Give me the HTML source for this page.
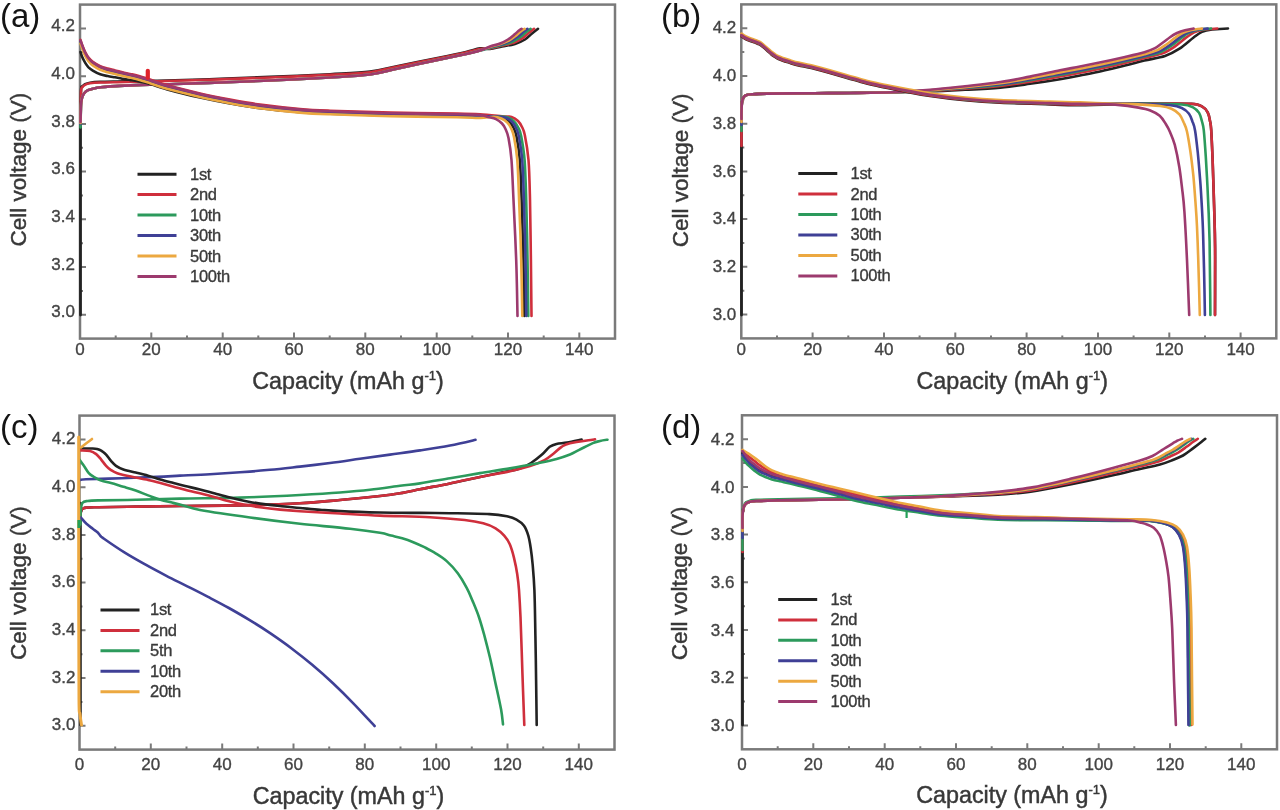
<!DOCTYPE html>
<html><head><meta charset="utf-8"><title>Charge-discharge curves</title>
<style>
html,body{margin:0;padding:0;background:#fff;}
body{width:1280px;height:810px;overflow:hidden;}
svg{display:block;font-family:"Liberation Sans",sans-serif;filter:blur(0.7px);}
.tl{font-size:17px;fill:#444;stroke:#444;stroke-width:0.35px;}
.al{font-size:23.3px;fill:#383838;stroke:#383838;stroke-width:0.45px;}
.yl{font-size:22.5px;fill:#383838;stroke:#383838;stroke-width:0.45px;}
.sup{font-size:13px;}
.pl{font-size:33px;fill:#141414;}
.lg{font-size:16.5px;fill:#3a3a3a;stroke:#3a3a3a;stroke-width:0.35px;letter-spacing:-0.3px;}
</style></head><body>
<svg width="1280" height="810" viewBox="0 0 1280 810">
<rect width="1280" height="810" fill="#fff"/>

<path d="M115.7,338.6V335.6 M151.3,338.6V332.6 M187.0,338.6V335.6 M222.7,338.6V332.6 M258.3,338.6V335.6 M294.0,338.6V332.6 M329.7,338.6V335.6 M365.3,338.6V332.6 M401.0,338.6V335.6 M436.7,338.6V332.6 M472.3,338.6V335.6 M508.0,338.6V332.6 M543.7,338.6V335.6 M579.3,338.6V332.6 M80.0,314.7H86.0 M80.0,290.9H83.0 M80.0,267.0H86.0 M80.0,243.2H83.0 M80.0,219.3H86.0 M80.0,195.5H83.0 M80.0,171.6H86.0 M80.0,147.7H83.0 M80.0,123.9H86.0 M80.0,100.0H83.0 M80.0,76.2H86.0 M80.0,52.3H83.0 M80.0,28.5H86.0" stroke="#7a7a7a" stroke-width="2" fill="none"/>
<rect x="80.0" y="4.6" width="535" height="334" fill="none" stroke="#7a7a7a" stroke-width="2.5"/>
<text x="75.0" y="31.1" class="tl" text-anchor="end">4.2</text>
<text x="75.0" y="78.8" class="tl" text-anchor="end">4.0</text>
<text x="75.0" y="126.5" class="tl" text-anchor="end">3.8</text>
<text x="75.0" y="174.2" class="tl" text-anchor="end">3.6</text>
<text x="75.0" y="221.9" class="tl" text-anchor="end">3.4</text>
<text x="75.0" y="269.6" class="tl" text-anchor="end">3.2</text>
<text x="75.0" y="317.3" class="tl" text-anchor="end">3.0</text>
<text x="80.0" y="355.1" class="tl" text-anchor="middle">0</text>
<text x="151.3" y="355.1" class="tl" text-anchor="middle">20</text>
<text x="222.7" y="355.1" class="tl" text-anchor="middle">40</text>
<text x="294.0" y="355.1" class="tl" text-anchor="middle">60</text>
<text x="365.3" y="355.1" class="tl" text-anchor="middle">80</text>
<text x="436.7" y="355.1" class="tl" text-anchor="middle">100</text>
<text x="508.0" y="355.1" class="tl" text-anchor="middle">120</text>
<text x="579.3" y="355.1" class="tl" text-anchor="middle">140</text>
<text x="348.0" y="389.1" class="al" text-anchor="middle">Capacity (mAh g<tspan class="sup" dy="-9">-1</tspan><tspan dy="9">)</tspan></text>
<text class="yl" text-anchor="middle" transform="translate(26.0,169.6) rotate(-90)">Cell voltage (V)</text>
<text x="0.0" y="27.0" class="pl">(a)</text>
<path d="M777.0,338.4V335.4 M812.6,338.4V332.4 M848.3,338.4V335.4 M884.0,338.4V332.4 M919.6,338.4V335.4 M955.3,338.4V332.4 M991.0,338.4V335.4 M1026.6,338.4V332.4 M1062.3,338.4V335.4 M1098.0,338.4V332.4 M1133.6,338.4V335.4 M1169.3,338.4V332.4 M1205.0,338.4V335.4 M1240.6,338.4V332.4 M741.3,314.5H747.3 M741.3,290.7H744.3 M741.3,266.8H747.3 M741.3,243.0H744.3 M741.3,219.1H747.3 M741.3,195.3H744.3 M741.3,171.4H747.3 M741.3,147.5H744.3 M741.3,123.7H747.3 M741.3,99.8H744.3 M741.3,76.0H747.3 M741.3,52.1H744.3 M741.3,28.3H747.3" stroke="#7a7a7a" stroke-width="2" fill="none"/>
<rect x="741.3" y="4.4" width="535" height="334" fill="none" stroke="#7a7a7a" stroke-width="2.5"/>
<text x="736.3" y="33.4" class="tl" text-anchor="end">4.2</text>
<text x="736.3" y="81.1" class="tl" text-anchor="end">4.0</text>
<text x="736.3" y="128.8" class="tl" text-anchor="end">3.8</text>
<text x="736.3" y="176.5" class="tl" text-anchor="end">3.6</text>
<text x="736.3" y="224.2" class="tl" text-anchor="end">3.4</text>
<text x="736.3" y="271.9" class="tl" text-anchor="end">3.2</text>
<text x="736.3" y="319.6" class="tl" text-anchor="end">3.0</text>
<text x="741.3" y="354.9" class="tl" text-anchor="middle">0</text>
<text x="812.6" y="354.9" class="tl" text-anchor="middle">20</text>
<text x="884.0" y="354.9" class="tl" text-anchor="middle">40</text>
<text x="955.3" y="354.9" class="tl" text-anchor="middle">60</text>
<text x="1026.6" y="354.9" class="tl" text-anchor="middle">80</text>
<text x="1098.0" y="354.9" class="tl" text-anchor="middle">100</text>
<text x="1169.3" y="354.9" class="tl" text-anchor="middle">120</text>
<text x="1240.6" y="354.9" class="tl" text-anchor="middle">140</text>
<text x="1012.3" y="388.9" class="al" text-anchor="middle">Capacity (mAh g<tspan class="sup" dy="-9">-1</tspan><tspan dy="9">)</tspan></text>
<text class="yl" text-anchor="middle" transform="translate(688.3,170.4) rotate(-90)">Cell voltage (V)</text>
<text x="661.0" y="27.0" class="pl">(b)</text>
<path d="M115.2,749.6V746.6 M150.8,749.6V743.6 M186.5,749.6V746.6 M222.2,749.6V743.6 M257.8,749.6V746.6 M293.5,749.6V743.6 M329.2,749.6V746.6 M364.8,749.6V743.6 M400.5,749.6V746.6 M436.2,749.6V743.6 M471.8,749.6V746.6 M507.5,749.6V743.6 M543.2,749.6V746.6 M578.8,749.6V743.6 M79.5,725.7H85.5 M79.5,701.9H82.5 M79.5,678.0H85.5 M79.5,654.2H82.5 M79.5,630.3H85.5 M79.5,606.5H82.5 M79.5,582.6H85.5 M79.5,558.7H82.5 M79.5,534.9H85.5 M79.5,511.0H82.5 M79.5,487.2H85.5 M79.5,463.3H82.5 M79.5,439.5H85.5" stroke="#7a7a7a" stroke-width="2" fill="none"/>
<rect x="79.5" y="415.6" width="535" height="334" fill="none" stroke="#7a7a7a" stroke-width="2.5"/>
<text x="75.5" y="444.1" class="tl" text-anchor="end">4.2</text>
<text x="75.5" y="491.8" class="tl" text-anchor="end">4.0</text>
<text x="75.5" y="539.5" class="tl" text-anchor="end">3.8</text>
<text x="75.5" y="587.2" class="tl" text-anchor="end">3.6</text>
<text x="75.5" y="634.9" class="tl" text-anchor="end">3.4</text>
<text x="75.5" y="682.6" class="tl" text-anchor="end">3.2</text>
<text x="75.5" y="730.3" class="tl" text-anchor="end">3.0</text>
<text x="79.5" y="769.6" class="tl" text-anchor="middle">0</text>
<text x="150.8" y="769.6" class="tl" text-anchor="middle">20</text>
<text x="222.2" y="769.6" class="tl" text-anchor="middle">40</text>
<text x="293.5" y="769.6" class="tl" text-anchor="middle">60</text>
<text x="364.8" y="769.6" class="tl" text-anchor="middle">80</text>
<text x="436.2" y="769.6" class="tl" text-anchor="middle">100</text>
<text x="507.5" y="769.6" class="tl" text-anchor="middle">120</text>
<text x="578.8" y="769.6" class="tl" text-anchor="middle">140</text>
<text x="348.5" y="803.6" class="al" text-anchor="middle">Capacity (mAh g<tspan class="sup" dy="-9">-1</tspan><tspan dy="9">)</tspan></text>
<text class="yl" text-anchor="middle" transform="translate(25.5,583.1) rotate(-90)">Cell voltage (V)</text>
<text x="0.0" y="438.0" class="pl">(c)</text>
<path d="M777.7,749.3V746.3 M813.3,749.3V743.3 M849.0,749.3V746.3 M884.7,749.3V743.3 M920.3,749.3V746.3 M956.0,749.3V743.3 M991.7,749.3V746.3 M1027.3,749.3V743.3 M1063.0,749.3V746.3 M1098.7,749.3V743.3 M1134.3,749.3V746.3 M1170.0,749.3V743.3 M1205.7,749.3V746.3 M1241.3,749.3V743.3 M742.0,725.4H748.0 M742.0,701.6H745.0 M742.0,677.7H748.0 M742.0,653.9H745.0 M742.0,630.0H748.0 M742.0,606.2H745.0 M742.0,582.3H748.0 M742.0,558.4H745.0 M742.0,534.6H748.0 M742.0,510.7H745.0 M742.0,486.9H748.0 M742.0,463.0H745.0 M742.0,439.2H748.0" stroke="#7a7a7a" stroke-width="2" fill="none"/>
<rect x="742.0" y="415.3" width="535" height="334" fill="none" stroke="#7a7a7a" stroke-width="2.5"/>
<text x="734.5" y="444.8" class="tl" text-anchor="end">4.2</text>
<text x="734.5" y="492.5" class="tl" text-anchor="end">4.0</text>
<text x="734.5" y="540.2" class="tl" text-anchor="end">3.8</text>
<text x="734.5" y="587.9" class="tl" text-anchor="end">3.6</text>
<text x="734.5" y="635.6" class="tl" text-anchor="end">3.4</text>
<text x="734.5" y="683.3" class="tl" text-anchor="end">3.2</text>
<text x="734.5" y="731.0" class="tl" text-anchor="end">3.0</text>
<text x="742.0" y="769.8" class="tl" text-anchor="middle">0</text>
<text x="813.3" y="769.8" class="tl" text-anchor="middle">20</text>
<text x="884.7" y="769.8" class="tl" text-anchor="middle">40</text>
<text x="956.0" y="769.8" class="tl" text-anchor="middle">60</text>
<text x="1027.3" y="769.8" class="tl" text-anchor="middle">80</text>
<text x="1098.7" y="769.8" class="tl" text-anchor="middle">100</text>
<text x="1170.0" y="769.8" class="tl" text-anchor="middle">120</text>
<text x="1241.3" y="769.8" class="tl" text-anchor="middle">140</text>
<text x="1012.0" y="803.3" class="al" text-anchor="middle">Capacity (mAh g<tspan class="sup" dy="-9">-1</tspan><tspan dy="9">)</tspan></text>
<text class="yl" text-anchor="middle" transform="translate(686.5,583.3) rotate(-90)">Cell voltage (V)</text>
<text x="661.0" y="438.0" class="pl">(d)</text>
<path d="M80.5,315.0 C80.5,283.8 80.5,158.8 80.5,127.5" stroke="#222222" stroke-width="2.8" fill="none" stroke-linecap="round" stroke-linejoin="round" />
<path d="M80.5,127.5 C80.6,121.4 80.7,97.8 81.0,90.9 C81.3,84.1 81.8,87.5 82.5,86.4 C83.2,85.3 83.8,84.8 85.0,84.2 C86.2,83.6 87.5,83.1 90.0,82.7 C92.5,82.3 94.2,82.1 100.0,81.9 C105.8,81.7 116.7,81.6 125.0,81.4 C133.3,81.2 141.7,81.1 150.0,80.9 C158.3,80.7 163.3,80.5 175.0,80.2 C186.7,79.9 204.2,79.4 220.0,78.8 C235.8,78.3 251.7,77.7 270.0,76.9 C288.3,76.1 313.3,75.1 330.0,74.2 C346.7,73.3 358.7,73.0 370.0,71.6 C381.3,70.2 386.3,68.3 398.0,65.9 C409.7,63.5 428.7,59.7 440.0,57.4 C451.3,55.1 459.3,53.4 466.0,51.9 C472.7,50.4 476.0,48.9 480.0,48.4 C484.0,47.9 486.3,49.3 490.0,49.0 C493.7,48.7 497.8,47.3 502.0,46.5 C506.2,45.7 511.2,45.2 515.0,44.0 C518.8,42.8 522.2,41.2 525.0,39.5 C527.8,37.8 529.8,35.3 532.0,33.5 C534.2,31.7 537.0,29.6 538.0,28.8" stroke="#222222" stroke-width="2.6" fill="none" stroke-linecap="round" stroke-linejoin="round" />
<path d="M80.5,122.0 C80.6,116.9 80.7,97.3 81.0,91.5 C81.3,85.7 81.8,88.1 82.5,87.0 C83.2,85.9 83.8,85.4 85.0,84.8 C86.2,84.2 87.5,83.7 90.0,83.3 C92.5,82.9 94.2,82.7 100.0,82.5 C105.8,82.3 116.7,82.2 125.0,82.0 C133.3,81.8 141.7,81.7 150.0,81.5 C158.3,81.3 163.3,81.1 175.0,80.8 C186.7,80.5 204.2,80.0 220.0,79.4 C235.8,78.9 251.7,78.3 270.0,77.5 C288.3,76.7 313.3,75.7 330.0,74.8 C346.7,73.9 358.7,73.6 370.0,72.2 C381.3,70.8 386.3,68.9 398.0,66.5 C409.7,64.1 428.7,60.3 440.0,58.0 C451.3,55.7 459.3,54.0 466.0,52.5 C472.7,51.0 476.0,49.7 480.0,49.0 C484.0,48.3 486.4,48.9 490.0,48.4 C493.6,47.9 497.6,46.7 501.5,45.8 C505.4,44.9 509.8,44.2 513.3,42.9 C516.8,41.7 520.0,39.9 522.6,38.2 C525.2,36.5 527.0,34.3 528.9,32.8 C530.8,31.2 533.2,29.5 534.1,28.8" stroke="#cf2f3c" stroke-width="2.6" fill="none" stroke-linecap="round" stroke-linejoin="round" />
<path d="M80.5,127.5 C80.6,123.8 80.8,109.9 81.0,105.0 C81.2,100.1 81.5,99.9 82.0,98.0 C82.5,96.1 83.0,94.8 84.0,93.5 C85.0,92.2 86.2,91.1 88.0,90.2 C89.8,89.3 92.9,88.7 95.0,88.2 C97.1,87.7 98.2,87.6 100.7,87.3 C103.2,87.0 105.9,86.7 110.0,86.4 C114.1,86.1 118.7,85.9 125.4,85.6 C132.1,85.3 141.7,84.9 150.0,84.6 C158.3,84.3 163.3,84.3 175.0,84.0 C186.7,83.7 204.2,83.1 220.0,82.5 C235.8,81.9 251.7,81.3 270.0,80.5 C288.3,79.7 313.3,78.5 330.0,77.5 C346.7,76.5 358.7,76.0 370.0,74.5 C381.3,73.0 386.3,71.0 398.0,68.5 C409.7,66.0 428.7,61.9 440.0,59.5 C451.3,57.1 459.3,55.5 466.0,54.0 C472.7,52.5 476.0,51.5 480.0,50.5 C484.0,49.5 486.5,48.8 490.0,47.9 C493.5,47.0 497.5,46.1 501.1,45.2 C504.7,44.2 508.6,43.3 511.8,42.0 C515.1,40.6 518.1,38.7 520.5,37.0 C522.9,35.4 524.5,33.5 526.1,32.1 C527.8,30.8 529.9,29.4 530.6,28.8" stroke="#2c9a5c" stroke-width="2.6" fill="none" stroke-linecap="round" stroke-linejoin="round" />
<path d="M80.5,124.0 C80.6,120.8 80.8,109.3 81.0,105.0 C81.2,100.7 81.5,99.9 82.0,98.0 C82.5,96.1 83.0,94.8 84.0,93.5 C85.0,92.2 86.2,91.1 88.0,90.2 C89.8,89.3 92.9,88.7 95.0,88.2 C97.1,87.7 98.2,87.6 100.7,87.3 C103.2,87.0 105.9,86.7 110.0,86.4 C114.1,86.1 118.7,85.9 125.4,85.6 C132.1,85.3 141.7,84.9 150.0,84.6 C158.3,84.3 163.3,84.3 175.0,84.0 C186.7,83.7 204.2,83.1 220.0,82.5 C235.8,81.9 251.7,81.3 270.0,80.5 C288.3,79.7 313.3,78.5 330.0,77.5 C346.7,76.5 358.7,76.0 370.0,74.5 C381.3,73.0 386.3,71.0 398.0,68.5 C409.7,66.0 428.7,61.9 440.0,59.5 C451.3,57.1 459.3,55.5 466.0,54.0 C472.7,52.5 476.0,51.6 480.0,50.5 C484.0,49.4 486.5,48.4 490.0,47.4 C493.5,46.4 497.3,45.6 500.7,44.6 C504.1,43.5 507.5,42.6 510.5,41.1 C513.5,39.7 516.4,37.6 518.6,36.0 C520.8,34.4 522.2,32.8 523.7,31.6 C525.2,30.4 526.9,29.3 527.5,28.8" stroke="#3f4096" stroke-width="2.6" fill="none" stroke-linecap="round" stroke-linejoin="round" />
<path d="M80.5,123.0 C80.6,120.0 80.8,109.2 81.0,105.0 C81.2,100.8 81.5,99.9 82.0,98.0 C82.5,96.1 83.0,94.8 84.0,93.5 C85.0,92.2 86.2,91.1 88.0,90.2 C89.8,89.3 92.9,88.7 95.0,88.2 C97.1,87.7 98.2,87.6 100.7,87.3 C103.2,87.0 105.9,86.7 110.0,86.4 C114.1,86.1 118.7,85.9 125.4,85.6 C132.1,85.3 141.7,84.9 150.0,84.6 C158.3,84.3 163.3,84.3 175.0,84.0 C186.7,83.7 204.2,83.1 220.0,82.5 C235.8,81.9 251.7,81.3 270.0,80.5 C288.3,79.7 313.3,78.5 330.0,77.5 C346.7,76.5 358.7,76.0 370.0,74.5 C381.3,73.0 386.3,71.0 398.0,68.5 C409.7,66.0 428.7,61.9 440.0,59.5 C451.3,57.1 459.3,55.5 466.0,54.0 C472.7,52.5 476.0,51.7 480.0,50.5 C484.0,49.3 486.6,48.0 490.0,47.0 C493.4,45.9 497.2,45.1 500.4,44.0 C503.6,42.9 506.5,41.8 509.3,40.3 C512.0,38.8 514.8,36.5 516.8,35.0 C518.8,33.4 520.0,32.1 521.3,31.0 C522.6,30.0 524.0,29.2 524.6,28.8" stroke="#eca840" stroke-width="2.6" fill="none" stroke-linecap="round" stroke-linejoin="round" />
<path d="M80.5,122.0 C80.6,119.2 80.8,109.0 81.0,105.0 C81.2,101.0 81.5,99.9 82.0,98.0 C82.5,96.1 83.0,94.8 84.0,93.5 C85.0,92.2 86.2,91.1 88.0,90.2 C89.8,89.3 92.9,88.7 95.0,88.2 C97.1,87.7 98.2,87.6 100.7,87.3 C103.2,87.0 105.9,86.7 110.0,86.4 C114.1,86.1 118.7,85.9 125.4,85.6 C132.1,85.3 141.7,84.9 150.0,84.6 C158.3,84.3 163.3,84.3 175.0,84.0 C186.7,83.7 204.2,83.1 220.0,82.5 C235.8,81.9 251.7,81.3 270.0,80.5 C288.3,79.7 313.3,78.5 330.0,77.5 C346.7,76.5 358.7,76.0 370.0,74.5 C381.3,73.0 386.3,71.0 398.0,68.5 C409.7,66.0 428.7,61.9 440.0,59.5 C451.3,57.1 459.3,55.5 466.0,54.0 C472.7,52.5 476.0,51.8 480.0,50.5 C484.0,49.2 486.7,47.7 490.0,46.5 C493.3,45.3 497.0,44.7 500.0,43.5 C503.0,42.3 505.5,41.1 508.0,39.5 C510.5,37.9 513.2,35.5 515.0,34.0 C516.8,32.5 517.9,31.4 519.0,30.5 C520.1,29.6 521.2,29.1 521.6,28.8" stroke="#9c3a6e" stroke-width="2.6" fill="none" stroke-linecap="round" stroke-linejoin="round" />
<path d="M80.5,52.0 C80.8,52.8 81.2,54.6 82.0,56.5 C82.8,58.4 84.3,61.3 85.4,63.1 C86.5,64.9 87.3,66.0 88.5,67.3 C89.7,68.5 90.8,69.4 92.8,70.6 C94.8,71.8 97.7,73.4 100.2,74.3 C102.7,75.2 105.1,75.6 107.6,76.1 C110.1,76.6 112.5,76.9 115.0,77.3 C117.5,77.7 119.9,78.2 122.4,78.7 C124.9,79.2 127.1,79.5 130.0,80.0 C132.9,80.5 136.7,81.1 140.0,81.8 C143.3,82.5 145.0,82.6 150.0,84.0 C155.0,85.4 161.7,88.0 170.0,90.2 C178.3,92.5 190.0,95.3 200.0,97.5 C210.0,99.7 220.0,101.7 230.0,103.5 C240.0,105.3 248.3,106.8 260.0,108.3 C271.7,109.8 288.3,111.4 300.0,112.3 C311.7,113.2 314.8,113.3 330.0,113.8 C345.2,114.3 369.8,115.0 391.0,115.4 C412.2,115.8 442.2,116.1 457.0,116.3 C471.8,116.5 473.4,116.7 480.0,116.8 C486.6,116.9 492.4,116.5 496.3,116.8 C500.3,117.0 501.3,117.2 503.6,118.1 C505.8,119.0 508.2,120.6 509.8,122.3 C511.5,123.9 512.5,125.6 513.6,128.0 C514.7,130.4 515.4,131.2 516.5,136.5 C517.5,141.9 519.0,149.4 519.8,160.0 C520.7,170.6 521.0,183.3 521.6,200.0 C522.2,216.7 522.9,240.7 523.4,260.0 C523.9,279.3 524.2,306.7 524.4,316.0" stroke="#222222" stroke-width="2.6" fill="none" stroke-linecap="round" stroke-linejoin="round" />
<path d="M80.5,39.9 C80.8,40.6 81.2,42.3 82.0,44.4 C82.8,46.5 84.3,50.4 85.4,52.6 C86.5,54.8 87.3,56.1 88.5,57.6 C89.7,59.1 90.8,60.4 92.8,61.8 C94.8,63.2 97.7,65.1 100.2,66.2 C102.7,67.3 105.1,67.9 107.6,68.6 C110.1,69.3 112.5,69.8 115.0,70.4 C117.5,71.0 119.9,71.6 122.4,72.2 C124.9,72.8 127.4,73.3 130.0,73.9 C132.6,74.5 134.7,74.9 138.0,75.8 C141.3,76.8 144.7,77.9 150.0,79.6 C155.3,81.3 161.7,83.7 170.0,86.0 C178.3,88.3 190.0,91.1 200.0,93.4 C210.0,95.7 220.0,97.7 230.0,99.6 C240.0,101.5 248.3,103.0 260.0,104.6 C271.7,106.2 288.3,108.0 300.0,109.0 C311.7,110.0 314.8,110.1 330.0,110.7 C345.2,111.3 369.8,112.1 391.0,112.6 C412.2,113.1 442.2,113.3 457.0,113.6 C471.8,113.9 472.0,113.9 480.0,114.4 C488.0,114.9 499.8,116.1 505.0,116.5 C510.2,116.9 509.3,116.2 511.5,117.0 C513.7,117.8 516.2,119.3 518.0,121.0 C519.8,122.7 520.9,124.7 522.0,127.0 C523.1,129.3 523.7,129.5 524.8,135.0 C525.9,140.5 527.6,149.2 528.5,160.0 C529.4,170.8 529.6,183.3 530.0,200.0 C530.4,216.7 530.6,240.7 530.9,260.0 C531.1,279.3 531.4,306.7 531.5,316.0" stroke="#cf2f3c" stroke-width="2.6" fill="none" stroke-linecap="round" stroke-linejoin="round" />
<path d="M80.5,42.3 C80.8,43.0 81.2,44.7 82.0,46.8 C82.8,48.9 84.3,52.8 85.4,55.0 C86.5,57.2 87.3,58.5 88.5,60.0 C89.7,61.5 90.8,62.8 92.8,64.2 C94.8,65.6 97.7,67.5 100.2,68.6 C102.7,69.7 105.1,70.3 107.6,71.0 C110.1,71.7 112.5,72.2 115.0,72.8 C117.5,73.4 119.9,74.0 122.4,74.6 C124.9,75.2 127.4,75.7 130.0,76.3 C132.6,76.9 134.7,77.2 138.0,78.2 C141.3,79.2 144.7,80.3 150.0,82.0 C155.3,83.7 161.7,86.1 170.0,88.4 C178.3,90.7 190.0,93.5 200.0,95.8 C210.0,98.1 220.0,100.1 230.0,102.0 C240.0,103.9 248.3,105.4 260.0,107.0 C271.7,108.6 288.3,110.4 300.0,111.4 C311.7,112.4 314.8,112.5 330.0,113.1 C345.2,113.7 369.8,114.5 391.0,115.0 C412.2,115.5 442.2,115.7 457.0,116.0 C471.8,116.3 472.7,116.7 480.0,116.8 C487.3,116.9 496.4,116.5 501.1,116.6 C505.7,116.7 505.7,116.7 507.9,117.5 C510.1,118.3 512.6,119.9 514.3,121.6 C516.0,123.2 517.1,125.1 518.2,127.5 C519.3,129.8 520.0,130.3 521.1,135.7 C522.1,141.1 523.7,149.3 524.6,160.0 C525.4,170.7 525.7,183.3 526.2,200.0 C526.7,216.7 527.2,240.7 527.5,260.0 C527.9,279.3 528.2,306.7 528.3,316.0" stroke="#2c9a5c" stroke-width="2.6" fill="none" stroke-linecap="round" stroke-linejoin="round" />
<path d="M80.5,41.5 C80.8,42.2 81.2,43.9 82.0,46.0 C82.8,48.1 84.3,52.0 85.4,54.2 C86.5,56.4 87.3,57.7 88.5,59.2 C89.7,60.7 90.8,62.0 92.8,63.4 C94.8,64.8 97.7,66.7 100.2,67.8 C102.7,68.9 105.1,69.5 107.6,70.2 C110.1,70.9 112.5,71.4 115.0,72.0 C117.5,72.6 119.9,73.2 122.4,73.8 C124.9,74.4 127.4,74.9 130.0,75.5 C132.6,76.1 134.7,76.5 138.0,77.4 C141.3,78.4 144.7,79.5 150.0,81.2 C155.3,82.9 161.7,85.3 170.0,87.6 C178.3,89.9 190.0,92.7 200.0,95.0 C210.0,97.3 220.0,99.3 230.0,101.2 C240.0,103.1 248.3,104.6 260.0,106.2 C271.7,107.8 288.3,109.6 300.0,110.6 C311.7,111.6 314.8,111.7 330.0,112.3 C345.2,112.9 369.8,113.7 391.0,114.2 C412.2,114.7 442.2,114.9 457.0,115.2 C471.8,115.5 473.0,115.8 480.0,116.0 C487.0,116.2 494.4,116.4 498.7,116.7 C503.0,117.0 503.5,116.9 505.8,117.8 C508.0,118.7 510.4,120.3 512.1,121.9 C513.8,123.6 514.8,125.4 515.9,127.7 C517.0,130.1 517.7,130.7 518.8,136.1 C519.8,141.5 521.4,149.4 522.2,160.0 C523.1,170.6 523.4,183.3 523.9,200.0 C524.4,216.7 525.1,240.7 525.5,260.0 C525.9,279.3 526.2,306.7 526.3,316.0" stroke="#3f4096" stroke-width="2.6" fill="none" stroke-linecap="round" stroke-linejoin="round" />
<path d="M80.5,43.5 C80.8,44.2 81.2,45.9 82.0,48.0 C82.8,50.1 84.3,54.0 85.4,56.2 C86.5,58.4 87.3,59.7 88.5,61.2 C89.7,62.7 90.8,64.0 92.8,65.4 C94.8,66.8 97.7,68.7 100.2,69.8 C102.7,70.9 105.1,71.5 107.6,72.2 C110.1,72.9 112.5,73.4 115.0,74.0 C117.5,74.6 119.9,75.2 122.4,75.8 C124.9,76.4 127.4,76.9 130.0,77.5 C132.6,78.1 134.7,78.5 138.0,79.4 C141.3,80.4 144.7,81.5 150.0,83.2 C155.3,84.9 161.7,87.3 170.0,89.6 C178.3,91.9 190.0,94.7 200.0,97.0 C210.0,99.3 220.0,101.3 230.0,103.2 C240.0,105.1 248.3,106.6 260.0,108.2 C271.7,109.8 288.3,111.6 300.0,112.6 C311.7,113.6 314.8,113.7 330.0,114.3 C345.2,114.9 369.8,115.7 391.0,116.2 C412.2,116.7 442.2,116.9 457.0,117.2 C471.8,117.5 473.9,118.1 480.0,118.0 C486.1,117.9 490.2,116.8 493.8,116.8 C497.3,116.9 499.0,117.5 501.3,118.5 C503.5,119.4 505.8,121.0 507.4,122.6 C509.1,124.3 510.0,125.9 511.1,128.3 C512.2,130.7 513.0,131.7 514.0,137.0 C515.1,142.3 516.4,149.5 517.3,160.0 C518.1,170.5 518.5,183.3 519.1,200.0 C519.8,216.7 520.7,240.7 521.2,260.0 C521.7,279.3 522.1,306.7 522.3,316.0" stroke="#eca840" stroke-width="2.6" fill="none" stroke-linecap="round" stroke-linejoin="round" />
<path d="M80.5,40.5 C80.8,41.2 81.2,42.9 82.0,45.0 C82.8,47.1 84.3,51.0 85.4,53.2 C86.5,55.4 87.3,56.7 88.5,58.2 C89.7,59.7 90.8,61.0 92.8,62.4 C94.8,63.8 97.7,65.7 100.2,66.8 C102.7,67.9 105.1,68.5 107.6,69.2 C110.1,69.9 112.5,70.4 115.0,71.0 C117.5,71.6 119.9,72.2 122.4,72.8 C124.9,73.4 127.4,73.9 130.0,74.5 C132.6,75.1 134.7,75.5 138.0,76.4 C141.3,77.4 144.7,78.5 150.0,80.2 C155.3,81.9 161.7,84.3 170.0,86.6 C178.3,88.9 190.0,91.7 200.0,94.0 C210.0,96.3 220.0,98.3 230.0,100.2 C240.0,102.1 248.3,103.6 260.0,105.2 C271.7,106.8 288.3,108.6 300.0,109.6 C311.7,110.6 314.8,110.7 330.0,111.3 C345.2,111.9 369.8,112.7 391.0,113.2 C412.2,113.7 442.2,113.9 457.0,114.2 C471.8,114.5 474.8,114.5 480.0,115.0 C485.2,115.5 485.3,116.3 488.0,117.0 C490.7,117.7 493.7,118.1 496.0,119.2 C498.3,120.3 500.4,121.9 502.0,123.5 C503.6,125.1 504.4,126.6 505.5,129.0 C506.6,131.4 507.5,132.8 508.5,138.0 C509.5,143.2 510.7,149.7 511.5,160.0 C512.3,170.3 512.7,183.3 513.5,200.0 C514.3,216.7 515.5,240.7 516.2,260.0 C516.9,279.3 517.3,306.7 517.5,316.0" stroke="#9c3a6e" stroke-width="2.6" fill="none" stroke-linecap="round" stroke-linejoin="round" />
<path d="M147.8,70.8V77.8" stroke="#e0222a" stroke-width="4.2" stroke-linecap="round"/>
<path d="M741.5,315.0 C741.5,286.8 741.5,174.2 741.5,146.0" stroke="#222222" stroke-width="2.8" fill="none" stroke-linecap="round" stroke-linejoin="round" />
<path d="M741.5,146.0 C741.5,140.3 741.4,119.3 741.5,112.0 C741.6,104.7 741.7,104.4 742.0,102.0 C742.3,99.6 742.8,98.6 743.5,97.5 C744.2,96.4 744.6,95.7 746.0,95.2 C747.4,94.7 748.1,94.6 751.6,94.3 C755.1,94.0 756.6,93.8 767.0,93.6 C777.4,93.4 800.2,93.3 814.0,93.2 C827.8,93.1 837.0,93.2 850.0,93.0 C863.0,92.8 878.7,92.5 892.0,92.2 C905.3,91.9 917.8,91.8 930.0,91.4 C942.2,91.0 953.3,90.4 965.0,89.8 C976.7,89.2 989.5,88.6 1000.3,87.6 C1011.1,86.6 1020.0,85.2 1030.0,83.8 C1040.0,82.4 1051.7,80.6 1060.0,79.2 C1068.3,77.8 1073.0,76.9 1080.0,75.5 C1087.0,74.1 1094.5,72.7 1102.0,71.0 C1109.5,69.3 1117.9,67.2 1125.0,65.5 C1132.1,63.8 1137.7,62.1 1144.4,60.5 C1151.1,58.9 1159.2,58.0 1165.0,56.0 C1170.8,54.0 1174.7,51.8 1179.5,48.7 C1184.3,45.6 1189.8,40.3 1193.6,37.5 C1197.3,34.7 1198.9,33.2 1202.0,31.9 C1205.1,30.6 1207.7,30.1 1212.0,29.5 C1216.3,28.9 1225.3,28.7 1228.0,28.5" stroke="#222222" stroke-width="2.6" fill="none" stroke-linecap="round" stroke-linejoin="round" />
<path d="M741.5,146.0 C741.5,140.3 741.4,119.3 741.5,112.0 C741.6,104.7 741.7,104.4 742.0,102.0 C742.3,99.6 742.8,98.6 743.5,97.5 C744.2,96.4 744.6,95.7 746.0,95.2 C747.4,94.7 748.1,94.6 751.6,94.3 C755.1,94.0 756.6,93.8 767.0,93.6 C777.4,93.4 800.2,93.3 814.0,93.2 C827.8,93.1 837.0,93.2 850.0,93.0 C863.0,92.8 878.7,92.5 892.0,92.2 C905.3,91.9 917.8,91.5 930.0,90.9 C942.2,90.3 953.3,89.5 965.0,88.7 C976.7,87.8 989.5,87.0 1000.3,85.9 C1011.1,84.7 1020.0,83.1 1030.0,81.6 C1040.0,80.0 1051.7,77.9 1060.0,76.4 C1068.3,75.0 1073.0,74.1 1080.0,72.7 C1087.0,71.3 1094.5,69.9 1102.0,68.2 C1109.5,66.6 1117.9,64.6 1125.0,62.9 C1132.1,61.2 1138.2,59.5 1144.4,58.0 C1150.6,56.4 1156.9,55.4 1161.9,53.6 C1166.9,51.7 1170.3,49.5 1174.4,46.8 C1178.4,44.1 1183.0,39.8 1186.3,37.4 C1189.6,35.0 1191.4,33.5 1194.2,32.2 C1197.1,31.0 1199.8,30.3 1203.6,29.7 C1207.5,29.1 1215.1,28.7 1217.3,28.5" stroke="#cf2f3c" stroke-width="2.6" fill="none" stroke-linecap="round" stroke-linejoin="round" />
<path d="M741.5,131.0 C741.5,127.8 741.4,116.8 741.5,112.0 C741.6,107.2 741.7,104.4 742.0,102.0 C742.3,99.6 742.8,98.6 743.5,97.5 C744.2,96.4 744.6,95.7 746.0,95.2 C747.4,94.7 748.1,94.6 751.6,94.3 C755.1,94.0 756.6,93.8 767.0,93.6 C777.4,93.4 800.2,93.3 814.0,93.2 C827.8,93.1 837.0,93.2 850.0,93.0 C863.0,92.8 878.7,92.6 892.0,92.2 C905.3,91.8 917.8,91.3 930.0,90.6 C942.2,89.9 953.3,89.0 965.0,88.0 C976.7,87.1 989.5,86.1 1000.3,84.9 C1011.1,83.6 1020.0,81.9 1030.0,80.3 C1040.0,78.6 1051.7,76.4 1060.0,74.8 C1068.3,73.3 1073.0,72.5 1080.0,71.1 C1087.0,69.7 1094.5,68.2 1102.0,66.6 C1109.5,65.0 1117.9,63.0 1125.0,61.3 C1132.1,59.7 1138.6,58.0 1144.4,56.5 C1150.2,55.0 1155.6,54.0 1160.1,52.2 C1164.6,50.4 1167.8,48.1 1171.4,45.7 C1175.1,43.2 1179.0,39.6 1182.0,37.4 C1185.1,35.1 1187.0,33.7 1189.8,32.4 C1192.5,31.2 1195.2,30.5 1198.8,29.8 C1202.3,29.2 1209.1,28.8 1211.1,28.5" stroke="#2c9a5c" stroke-width="2.6" fill="none" stroke-linecap="round" stroke-linejoin="round" />
<path d="M741.5,125.0 C741.5,122.8 741.4,115.8 741.5,112.0 C741.6,108.2 741.7,104.4 742.0,102.0 C742.3,99.6 742.8,98.6 743.5,97.5 C744.2,96.4 744.6,95.7 746.0,95.2 C747.4,94.7 748.1,94.6 751.6,94.3 C755.1,94.0 756.6,93.8 767.0,93.6 C777.4,93.4 800.2,93.3 814.0,93.2 C827.8,93.1 837.0,93.2 850.0,93.0 C863.0,92.8 878.7,92.6 892.0,92.2 C905.3,91.8 917.8,91.2 930.0,90.4 C942.2,89.7 953.3,88.7 965.0,87.7 C976.7,86.6 989.5,85.7 1000.3,84.3 C1011.1,82.9 1020.0,81.3 1030.0,79.5 C1040.0,77.8 1051.7,75.5 1060.0,73.9 C1068.3,72.4 1073.0,71.6 1080.0,70.2 C1087.0,68.8 1094.5,67.3 1102.0,65.7 C1109.5,64.1 1117.9,62.2 1125.0,60.5 C1132.1,58.8 1138.7,57.2 1144.4,55.7 C1150.1,54.1 1154.9,53.2 1159.1,51.4 C1163.3,49.6 1166.3,47.4 1169.8,45.0 C1173.2,42.7 1176.8,39.4 1179.7,37.3 C1182.6,35.2 1184.5,33.8 1187.2,32.5 C1190.0,31.3 1192.7,30.6 1196.1,29.9 C1199.5,29.2 1205.8,28.8 1207.7,28.6" stroke="#3f4096" stroke-width="2.6" fill="none" stroke-linecap="round" stroke-linejoin="round" />
<path d="M741.5,122.0 C741.5,120.3 741.4,115.3 741.5,112.0 C741.6,108.7 741.7,104.4 742.0,102.0 C742.3,99.6 742.8,98.6 743.5,97.5 C744.2,96.4 744.6,95.7 746.0,95.2 C747.4,94.7 748.1,94.6 751.6,94.3 C755.1,94.0 756.6,93.8 767.0,93.6 C777.4,93.4 800.2,93.3 814.0,93.2 C827.8,93.1 837.0,93.2 850.0,93.0 C863.0,92.8 878.7,92.7 892.0,92.2 C905.3,91.7 917.8,91.0 930.0,90.2 C942.2,89.3 953.3,88.2 965.0,87.1 C976.7,85.9 989.5,84.8 1000.3,83.3 C1011.1,81.9 1020.0,80.1 1030.0,78.3 C1040.0,76.5 1051.7,74.0 1060.0,72.4 C1068.3,70.8 1073.0,70.0 1080.0,68.7 C1087.0,67.3 1094.5,65.8 1102.0,64.2 C1109.5,62.6 1117.9,60.7 1125.0,59.0 C1132.1,57.4 1139.0,55.8 1144.4,54.3 C1149.8,52.8 1153.6,51.8 1157.4,50.1 C1161.2,48.4 1163.9,46.1 1167.0,44.0 C1170.0,41.9 1173.0,39.1 1175.7,37.3 C1178.3,35.4 1180.4,33.9 1183.0,32.7 C1185.6,31.5 1188.3,30.7 1191.5,30.0 C1194.6,29.3 1200.1,28.8 1201.9,28.6" stroke="#eca840" stroke-width="2.6" fill="none" stroke-linecap="round" stroke-linejoin="round" />
<path d="M741.5,119.0 C741.5,117.8 741.4,114.8 741.5,112.0 C741.6,109.2 741.7,104.4 742.0,102.0 C742.3,99.6 742.8,98.6 743.5,97.5 C744.2,96.4 744.6,95.7 746.0,95.2 C747.4,94.7 748.1,94.6 751.6,94.3 C755.1,94.0 756.6,93.8 767.0,93.6 C777.4,93.4 800.2,93.3 814.0,93.2 C827.8,93.1 837.0,93.2 850.0,93.0 C863.0,92.8 878.7,92.7 892.0,92.2 C905.3,91.7 917.8,90.8 930.0,89.8 C942.2,88.8 953.3,87.5 965.0,86.2 C976.7,84.9 989.5,83.6 1000.3,82.0 C1011.1,80.4 1020.0,78.5 1030.0,76.6 C1040.0,74.6 1051.7,72.0 1060.0,70.3 C1068.3,68.6 1073.0,67.9 1080.0,66.5 C1087.0,65.1 1094.5,63.6 1102.0,62.0 C1109.5,60.4 1117.9,58.6 1125.0,57.0 C1132.1,55.4 1139.4,53.8 1144.4,52.3 C1149.4,50.8 1151.9,49.8 1155.0,48.2 C1158.1,46.6 1160.5,44.3 1163.0,42.5 C1165.5,40.7 1167.7,38.8 1170.0,37.2 C1172.3,35.6 1174.5,34.2 1177.0,33.0 C1179.5,31.8 1182.2,30.9 1185.0,30.2 C1187.8,29.5 1192.2,28.9 1193.6,28.6" stroke="#9c3a6e" stroke-width="2.6" fill="none" stroke-linecap="round" stroke-linejoin="round" />
<path d="M741.5,36.4 C742.2,36.9 744.3,38.4 746.0,39.3 C747.7,40.2 749.9,41.0 751.6,41.6 C753.3,42.2 754.7,42.5 756.0,43.0 C757.3,43.5 758.2,43.8 759.4,44.5 C760.6,45.2 761.7,46.0 763.0,47.0 C764.3,48.0 766.0,49.5 767.3,50.7 C768.6,51.9 769.7,53.0 771.0,54.1 C772.3,55.1 773.7,56.1 775.0,57.0 C776.3,57.9 777.7,58.6 779.0,59.2 C780.3,59.8 780.9,60.1 782.9,60.8 C784.9,61.5 788.1,62.4 790.7,63.2 C793.3,64.0 794.6,64.5 798.5,65.4 C802.4,66.3 808.9,67.5 814.1,68.8 C819.3,70.1 824.5,71.5 829.8,73.0 C835.0,74.5 840.2,76.1 845.4,77.6 C850.6,79.1 855.8,80.6 861.0,82.0 C866.2,83.4 871.4,84.6 876.6,85.8 C881.8,87.0 887.0,88.0 892.2,89.0 C897.5,90.0 901.6,90.9 907.9,92.1 C914.2,93.3 920.5,94.6 930.0,96.0 C939.5,97.4 953.3,99.2 965.0,100.3 C976.7,101.4 985.8,102.1 1000.0,102.8 C1014.2,103.5 1036.7,104.0 1050.0,104.4 C1063.3,104.8 1065.0,105.4 1080.0,105.2 C1095.0,105.0 1126.7,103.7 1140.0,103.4 C1153.3,103.1 1151.5,103.4 1160.0,103.5 C1168.5,103.6 1184.3,103.3 1191.3,103.8 C1198.3,104.3 1199.2,105.0 1201.9,106.4 C1204.6,107.8 1206.4,109.9 1207.7,112.3 C1209.0,114.7 1209.4,118.0 1210.0,121.0 C1210.6,124.0 1210.8,123.6 1211.2,130.0 C1211.6,136.4 1212.2,149.7 1212.6,159.6 C1213.0,169.5 1213.3,179.4 1213.6,189.3 C1213.9,199.2 1214.2,209.0 1214.5,218.9 C1214.8,228.8 1215.0,238.3 1215.1,248.5 C1215.2,258.7 1215.1,268.9 1215.1,280.0 C1215.1,291.1 1215.0,309.2 1215.0,315.0" stroke="#222222" stroke-width="2.6" fill="none" stroke-linecap="round" stroke-linejoin="round" />
<path d="M741.5,35.9 C742.2,36.4 744.3,37.9 746.0,38.8 C747.7,39.7 749.9,40.5 751.6,41.1 C753.3,41.7 754.7,42.0 756.0,42.5 C757.3,43.0 758.2,43.3 759.4,44.0 C760.6,44.7 761.7,45.5 763.0,46.5 C764.3,47.5 766.0,49.0 767.3,50.2 C768.6,51.4 769.7,52.5 771.0,53.6 C772.3,54.6 773.7,55.6 775.0,56.5 C776.3,57.4 777.7,58.1 779.0,58.7 C780.3,59.3 780.9,59.6 782.9,60.3 C784.9,61.0 788.1,61.9 790.7,62.7 C793.3,63.5 794.6,64.0 798.5,64.9 C802.4,65.8 808.9,67.0 814.1,68.3 C819.3,69.6 824.5,71.0 829.8,72.5 C835.0,74.0 840.2,75.6 845.4,77.1 C850.6,78.6 855.8,80.1 861.0,81.5 C866.2,82.9 871.4,84.1 876.6,85.3 C881.8,86.5 887.0,87.5 892.2,88.5 C897.5,89.5 901.6,90.4 907.9,91.6 C914.2,92.8 920.5,94.1 930.0,95.5 C939.5,96.9 953.3,98.7 965.0,99.8 C976.7,100.9 985.8,101.6 1000.0,102.3 C1014.2,103.0 1036.7,103.5 1050.0,103.9 C1063.3,104.3 1065.0,104.8 1080.0,104.7 C1095.0,104.6 1126.7,103.6 1140.0,103.4 C1153.3,103.2 1151.5,103.4 1160.0,103.5 C1168.5,103.6 1184.3,103.3 1191.3,103.8 C1198.3,104.3 1199.2,105.0 1201.9,106.4 C1204.6,107.8 1206.4,109.9 1207.7,112.3 C1209.0,114.7 1209.4,118.0 1210.0,121.0 C1210.6,124.0 1210.8,123.6 1211.2,130.0 C1211.6,136.4 1212.2,149.7 1212.6,159.6 C1213.0,169.5 1213.3,179.4 1213.6,189.3 C1213.9,199.2 1214.2,209.0 1214.5,218.9 C1214.8,228.8 1215.0,238.3 1215.1,248.5 C1215.2,258.7 1215.1,268.9 1215.1,280.0 C1215.1,291.1 1215.0,309.2 1215.0,315.0" stroke="#cf2f3c" stroke-width="2.6" fill="none" stroke-linecap="round" stroke-linejoin="round" />
<path d="M741.5,35.2 C742.2,35.7 744.3,37.2 746.0,38.1 C747.7,39.0 749.9,39.8 751.6,40.4 C753.3,41.0 754.7,41.3 756.0,41.8 C757.3,42.3 758.2,42.6 759.4,43.3 C760.6,44.0 761.7,44.8 763.0,45.8 C764.3,46.8 766.0,48.3 767.3,49.5 C768.6,50.7 769.7,51.8 771.0,52.9 C772.3,54.0 773.7,55.0 775.0,55.8 C776.3,56.7 777.7,57.4 779.0,58.0 C780.3,58.6 780.9,58.9 782.9,59.6 C784.9,60.3 788.1,61.2 790.7,62.0 C793.3,62.8 794.6,63.3 798.5,64.2 C802.4,65.1 808.9,66.3 814.1,67.6 C819.3,68.9 824.5,70.3 829.8,71.8 C835.0,73.3 840.2,74.9 845.4,76.4 C850.6,77.9 855.8,79.4 861.0,80.8 C866.2,82.2 871.4,83.4 876.6,84.6 C881.8,85.8 887.0,86.8 892.2,87.8 C897.5,88.8 901.6,89.7 907.9,90.9 C914.2,92.1 920.5,93.4 930.0,94.8 C939.5,96.2 953.3,98.0 965.0,99.1 C976.7,100.2 985.8,100.9 1000.0,101.6 C1014.2,102.3 1036.7,102.8 1050.0,103.2 C1063.3,103.6 1066.2,103.9 1080.0,104.0 C1093.8,104.1 1120.8,103.6 1132.8,103.5 C1144.8,103.5 1143.8,103.5 1151.9,103.7 C1160.1,103.9 1175.0,103.9 1181.8,104.5 C1188.6,105.1 1189.7,105.7 1192.6,107.1 C1195.5,108.5 1197.5,110.5 1199.1,112.9 C1200.6,115.3 1201.2,118.5 1202.0,121.5 C1202.8,124.4 1203.1,124.4 1203.8,130.4 C1204.4,136.3 1205.2,147.8 1205.8,156.9 C1206.4,166.1 1206.9,175.8 1207.4,185.3 C1207.9,194.7 1208.3,204.1 1208.7,213.6 C1209.0,223.0 1209.3,231.4 1209.6,241.8 C1209.8,252.3 1209.9,264.2 1210.0,276.4 C1210.2,288.6 1210.3,308.6 1210.4,315.0" stroke="#2c9a5c" stroke-width="2.6" fill="none" stroke-linecap="round" stroke-linejoin="round" />
<path d="M741.5,34.6 C742.2,35.1 744.3,36.6 746.0,37.5 C747.7,38.4 749.9,39.2 751.6,39.8 C753.3,40.4 754.7,40.7 756.0,41.2 C757.3,41.7 758.2,42.0 759.4,42.7 C760.6,43.4 761.7,44.2 763.0,45.2 C764.3,46.2 766.0,47.7 767.3,48.9 C768.6,50.1 769.7,51.2 771.0,52.3 C772.3,53.3 773.7,54.4 775.0,55.2 C776.3,56.1 777.7,56.8 779.0,57.4 C780.3,58.0 780.9,58.3 782.9,59.0 C784.9,59.7 788.1,60.6 790.7,61.4 C793.3,62.2 794.6,62.7 798.5,63.6 C802.4,64.5 808.9,65.7 814.1,67.0 C819.3,68.3 824.5,69.7 829.8,71.2 C835.0,72.7 840.2,74.3 845.4,75.8 C850.6,77.3 855.8,78.8 861.0,80.2 C866.2,81.6 871.4,82.8 876.6,84.0 C881.8,85.2 887.0,86.2 892.2,87.2 C897.5,88.2 901.6,89.1 907.9,90.3 C914.2,91.5 920.5,92.8 930.0,94.2 C939.5,95.6 953.3,97.4 965.0,98.5 C976.7,99.6 985.8,100.3 1000.0,101.0 C1014.2,101.7 1036.7,102.2 1050.0,102.6 C1063.3,103.0 1067.6,103.2 1080.0,103.4 C1092.4,103.6 1114.0,103.5 1124.4,103.6 C1134.8,103.7 1134.8,103.7 1142.5,103.9 C1150.3,104.2 1164.2,104.6 1170.7,105.3 C1177.3,106.0 1178.7,106.6 1181.8,108.0 C1184.8,109.4 1187.2,111.3 1189.0,113.7 C1190.8,116.0 1191.6,119.1 1192.6,122.0 C1193.7,124.8 1194.3,125.5 1195.1,130.8 C1196.0,136.1 1197.0,145.5 1197.9,153.8 C1198.7,162.1 1199.5,171.7 1200.2,180.6 C1200.9,189.5 1201.4,198.4 1201.9,207.4 C1202.4,216.3 1202.8,223.3 1203.1,234.1 C1203.5,244.9 1203.8,258.7 1204.1,272.2 C1204.4,285.7 1204.8,307.9 1204.9,315.0" stroke="#3f4096" stroke-width="2.6" fill="none" stroke-linecap="round" stroke-linejoin="round" />
<path d="M741.5,33.6 C742.2,34.1 744.3,35.6 746.0,36.5 C747.7,37.4 749.9,38.2 751.6,38.8 C753.3,39.4 754.7,39.7 756.0,40.2 C757.3,40.7 758.2,41.0 759.4,41.7 C760.6,42.4 761.7,43.2 763.0,44.2 C764.3,45.2 766.0,46.7 767.3,47.9 C768.6,49.1 769.7,50.2 771.0,51.3 C772.3,52.3 773.7,53.4 775.0,54.2 C776.3,55.1 777.7,55.8 779.0,56.4 C780.3,57.0 780.9,57.3 782.9,58.0 C784.9,58.7 788.1,59.6 790.7,60.4 C793.3,61.2 794.6,61.7 798.5,62.6 C802.4,63.5 808.9,64.7 814.1,66.0 C819.3,67.3 824.5,68.7 829.8,70.2 C835.0,71.7 840.2,73.3 845.4,74.8 C850.6,76.3 855.8,77.8 861.0,79.2 C866.2,80.6 871.4,81.8 876.6,83.0 C881.8,84.2 887.0,85.2 892.2,86.2 C897.5,87.2 901.6,88.1 907.9,89.3 C914.2,90.5 920.5,91.8 930.0,93.2 C939.5,94.6 953.3,96.4 965.0,97.5 C976.7,98.6 985.8,99.3 1000.0,100.0 C1014.2,100.7 1036.7,101.2 1050.0,101.6 C1063.3,102.0 1068.9,102.0 1080.0,102.4 C1091.1,102.8 1107.5,103.5 1116.4,103.8 C1125.3,104.0 1126.3,103.8 1133.6,104.1 C1140.9,104.5 1153.9,105.3 1160.2,106.0 C1166.5,106.8 1168.3,107.4 1171.5,108.8 C1174.7,110.2 1177.3,112.1 1179.4,114.4 C1181.4,116.6 1182.5,119.7 1183.7,122.5 C1185.0,125.3 1185.8,126.4 1186.9,131.2 C1188.0,135.9 1189.2,143.4 1190.3,150.9 C1191.4,158.4 1192.5,167.7 1193.4,176.1 C1194.2,184.6 1194.8,193.0 1195.4,201.4 C1196.0,209.9 1196.5,215.5 1197.0,226.7 C1197.5,237.8 1198.1,253.5 1198.5,268.2 C1199.0,282.9 1199.6,307.2 1199.8,315.0" stroke="#eca840" stroke-width="2.6" fill="none" stroke-linecap="round" stroke-linejoin="round" />
<path d="M741.5,35.1 C742.2,35.6 744.3,37.1 746.0,38.0 C747.7,38.9 749.9,39.7 751.6,40.3 C753.3,40.9 754.7,41.2 756.0,41.7 C757.3,42.2 758.2,42.5 759.4,43.2 C760.6,43.9 761.7,44.7 763.0,45.7 C764.3,46.7 766.0,48.2 767.3,49.4 C768.6,50.6 769.7,51.8 771.0,52.8 C772.3,53.8 773.7,54.9 775.0,55.7 C776.3,56.6 777.7,57.3 779.0,57.9 C780.3,58.5 780.9,58.8 782.9,59.5 C784.9,60.2 788.1,61.1 790.7,61.9 C793.3,62.7 794.6,63.2 798.5,64.1 C802.4,65.0 808.9,66.2 814.1,67.5 C819.3,68.8 824.5,70.2 829.8,71.7 C835.0,73.2 840.2,74.8 845.4,76.3 C850.6,77.8 855.8,79.3 861.0,80.7 C866.2,82.1 871.4,83.3 876.6,84.5 C881.8,85.7 887.0,86.7 892.2,87.7 C897.5,88.8 901.6,89.6 907.9,90.8 C914.2,92.0 920.5,93.3 930.0,94.7 C939.5,96.1 953.3,97.9 965.0,99.0 C976.7,100.1 985.8,100.8 1000.0,101.5 C1014.2,102.2 1036.7,102.7 1050.0,103.1 C1063.3,103.5 1071.7,103.8 1080.0,103.9 C1088.3,104.1 1094.1,103.9 1100.0,104.0 C1105.9,104.1 1108.8,104.0 1115.2,104.6 C1121.6,105.2 1132.8,106.6 1138.6,107.6 C1144.4,108.6 1146.8,109.1 1150.3,110.5 C1153.8,111.9 1157.2,113.6 1159.7,115.8 C1162.2,118.0 1163.8,120.8 1165.5,123.5 C1167.2,126.2 1168.5,128.4 1170.0,132.0 C1171.5,135.6 1173.2,139.0 1174.8,144.8 C1176.3,150.6 1178.1,159.6 1179.3,167.0 C1180.5,174.4 1181.3,181.9 1182.2,189.3 C1183.1,196.7 1183.6,199.7 1184.4,211.5 C1185.2,223.3 1186.2,242.8 1187.0,260.0 C1187.8,277.2 1188.8,305.8 1189.2,315.0" stroke="#9c3a6e" stroke-width="2.6" fill="none" stroke-linecap="round" stroke-linejoin="round" />
<path d="M80.5,725.0 C80.5,690.8 80.5,555.2 80.5,520.0 C80.5,484.8 80.4,515.6 80.6,514.0 C80.8,512.4 80.9,511.1 81.4,510.2 C81.9,509.2 82.7,508.7 83.5,508.3 C84.3,507.9 83.8,507.8 86.3,507.6 C88.8,507.4 90.5,507.4 98.7,507.2 C106.9,507.0 122.1,506.8 135.7,506.6 C149.2,506.4 162.6,506.2 180.0,506.0 C197.4,505.8 220.0,505.8 240.0,505.4 C260.0,504.9 283.3,504.2 300.0,503.3 C316.7,502.4 326.7,501.2 340.0,500.0 C353.3,498.8 370.0,497.1 380.0,496.0 C390.0,494.9 393.3,494.4 400.0,493.3 C406.7,492.2 411.7,491.0 420.0,489.3 C428.3,487.6 440.0,485.5 450.0,483.4 C460.0,481.3 470.8,478.8 480.0,476.9 C489.2,475.0 498.3,473.2 505.0,471.8 C511.7,470.4 515.7,469.9 520.0,468.4 C524.3,466.9 527.3,465.4 531.0,463.0 C534.7,460.6 539.2,457.0 542.3,454.3 C545.4,451.6 547.3,448.5 549.7,446.8 C552.1,445.1 553.6,444.6 556.5,443.9 C559.4,443.2 562.8,443.3 567.0,442.6 C571.2,441.9 579.2,440.0 581.6,439.5" stroke="#222222" stroke-width="2.6" fill="none" stroke-linecap="round" stroke-linejoin="round" />
<path d="M80.5,520.0 C80.5,519.0 80.4,515.6 80.6,514.0 C80.8,512.4 80.9,511.1 81.4,510.2 C81.9,509.2 82.7,508.7 83.5,508.3 C84.3,507.9 83.8,507.8 86.3,507.6 C88.8,507.4 90.5,507.4 98.7,507.2 C106.9,507.0 122.1,506.8 135.7,506.6 C149.2,506.4 162.6,506.2 180.0,506.0 C197.4,505.8 220.0,505.8 240.0,505.4 C260.0,504.9 283.3,504.2 300.0,503.3 C316.7,502.4 326.7,501.2 340.0,500.0 C353.3,498.8 370.0,497.1 380.0,496.0 C390.0,494.9 393.3,494.4 400.0,493.3 C406.7,492.2 411.7,491.0 420.0,489.3 C428.3,487.6 440.0,485.5 450.0,483.4 C460.0,481.3 470.0,478.9 480.0,476.9 C490.0,474.9 501.7,473.1 510.0,471.2 C518.3,469.4 524.2,467.9 530.0,466.1 C535.8,464.3 540.6,462.2 544.5,460.2 C548.4,458.1 550.5,456.0 553.4,453.8 C556.2,451.6 558.8,448.6 561.6,446.8 C564.4,445.1 564.4,444.6 570.0,443.3 C575.6,442.1 590.8,440.0 595.0,439.3" stroke="#cf2f3c" stroke-width="2.6" fill="none" stroke-linecap="round" stroke-linejoin="round" />
<path d="M80.5,524.5 C80.5,522.1 80.5,513.6 80.8,510.0 C81.1,506.4 81.5,504.3 82.6,502.8 C83.7,501.3 84.9,501.4 87.6,501.0 C90.3,500.6 90.7,500.6 98.7,500.4 C106.7,500.2 122.1,500.1 135.7,499.8 C149.2,499.5 162.6,499.0 180.0,498.6 C197.4,498.2 220.0,498.2 240.0,497.6 C260.0,497.0 283.3,495.9 300.0,495.0 C316.7,494.1 328.3,493.4 340.0,492.5 C351.7,491.6 360.0,490.9 370.0,489.8 C380.0,488.7 391.7,486.9 400.0,485.8 C408.3,484.7 411.7,484.6 420.0,483.4 C428.3,482.1 440.0,480.0 450.0,478.3 C460.0,476.6 470.0,474.8 480.0,473.1 C490.0,471.5 501.7,469.8 510.0,468.4 C518.3,467.0 525.0,465.6 530.0,464.7 C535.0,463.8 535.6,463.8 540.0,462.8 C544.4,461.9 551.6,460.4 556.6,459.0 C561.6,457.6 566.2,456.0 570.0,454.5 C573.8,453.0 575.4,451.8 579.2,449.9 C583.0,448.0 589.3,444.6 592.8,443.1 C596.3,441.6 597.5,441.6 600.0,441.0 C602.5,440.4 606.2,439.9 607.5,439.7" stroke="#2c9a5c" stroke-width="2.6" fill="none" stroke-linecap="round" stroke-linejoin="round" />
<path d="M80.0,480.0 C81.0,479.9 79.1,479.6 86.0,479.3 C92.9,479.0 109.7,478.6 121.5,478.2 C133.3,477.8 147.2,477.3 156.9,476.9 C166.7,476.5 171.2,476.1 180.0,475.6 C188.8,475.2 200.0,474.8 210.0,474.2 C220.0,473.6 230.0,473.0 240.0,472.3 C250.0,471.6 260.0,470.8 270.0,469.8 C280.0,468.9 290.0,467.7 300.0,466.6 C310.0,465.5 320.0,464.3 330.0,463.0 C340.0,461.7 350.0,460.2 360.0,458.8 C370.0,457.4 380.0,456.0 390.0,454.6 C400.0,453.2 410.0,451.9 420.0,450.4 C430.0,448.9 440.8,447.3 450.0,445.5 C459.2,443.7 471.2,440.8 475.5,439.8" stroke="#3f4096" stroke-width="2.6" fill="none" stroke-linecap="round" stroke-linejoin="round" />
<path d="M80.5,448.5 C82.5,448.5 89.8,448.4 92.5,448.5 C95.2,448.6 95.5,448.6 97.0,449.0 C98.5,449.4 99.7,449.7 101.2,450.6 C102.7,451.6 104.5,453.0 106.1,454.7 C107.7,456.4 109.3,459.0 111.0,460.9 C112.7,462.8 113.9,464.4 116.0,465.8 C118.1,467.2 120.1,468.4 123.4,469.5 C126.7,470.6 131.6,471.6 135.7,472.6 C139.8,473.6 144.0,474.6 148.1,475.7 C152.2,476.8 156.3,478.2 160.4,479.4 C164.5,480.6 168.7,481.7 172.8,482.8 C176.9,483.9 180.6,484.9 185.1,486.0 C189.6,487.1 195.0,488.2 200.0,489.5 C205.0,490.8 210.0,492.1 215.0,493.5 C220.0,494.9 225.0,496.4 230.0,497.6 C235.0,498.9 240.0,500.0 245.0,501.0 C250.0,502.0 254.2,502.8 260.0,503.6 C265.8,504.4 273.3,505.3 280.0,506.0 C286.7,506.7 293.3,507.4 300.0,508.0 C306.7,508.6 313.3,509.3 320.0,509.8 C326.7,510.3 330.0,510.7 340.0,511.1 C350.0,511.6 366.7,512.2 380.0,512.5 C393.3,512.8 408.3,512.8 420.0,512.9 C431.7,513.0 438.4,513.0 450.0,513.2 C461.6,513.4 479.8,513.6 489.4,514.1 C499.0,514.6 503.4,515.6 507.9,516.5 C512.4,517.4 513.8,518.1 516.5,519.6 C519.2,521.1 522.0,523.1 524.0,525.8 C526.0,528.5 527.2,532.0 528.3,535.7 C529.4,539.4 530.0,543.3 530.7,548.0 C531.4,552.7 532.0,557.0 532.6,564.0 C533.2,571.0 533.9,578.1 534.4,590.0 C534.9,601.9 535.1,620.6 535.4,635.6 C535.7,650.6 535.9,665.1 536.1,680.0 C536.3,694.9 536.6,717.5 536.7,725.0" stroke="#222222" stroke-width="2.6" fill="none" stroke-linecap="round" stroke-linejoin="round" />
<path d="M80.5,450.4 C82.1,450.5 87.4,450.4 90.0,451.0 C92.6,451.6 94.3,452.7 96.2,454.1 C98.1,455.5 99.6,457.7 101.2,459.6 C102.8,461.6 104.5,464.1 106.1,465.8 C107.7,467.6 109.2,468.9 111.0,470.1 C112.8,471.3 114.1,472.2 117.2,473.2 C120.3,474.2 124.4,475.2 129.6,476.3 C134.8,477.4 143.0,478.9 148.1,480.0 C153.2,481.1 156.3,482.0 160.4,483.1 C164.5,484.2 168.7,485.3 172.8,486.4 C176.9,487.5 180.6,488.6 185.1,489.8 C189.6,491.0 195.0,492.1 200.0,493.3 C205.0,494.6 210.0,495.9 215.0,497.3 C220.0,498.7 225.0,500.2 230.0,501.5 C235.0,502.8 240.0,503.9 245.0,504.8 C250.0,505.8 254.2,506.4 260.0,507.2 C265.8,508.0 273.3,508.9 280.0,509.6 C286.7,510.3 290.0,510.6 300.0,511.2 C310.0,511.8 326.7,512.8 340.0,513.5 C353.3,514.2 365.0,515.0 380.0,515.6 C395.0,516.2 415.9,516.5 430.0,517.2 C444.1,517.9 455.8,519.0 464.7,520.0 C473.6,521.0 478.0,521.9 483.2,523.3 C488.4,524.7 492.1,526.2 495.6,528.3 C499.1,530.4 501.8,533.0 504.2,535.7 C506.6,538.4 508.2,540.6 509.8,544.3 C511.4,548.0 512.8,552.9 514.0,557.9 C515.2,562.9 516.4,568.6 517.2,574.0 C518.0,579.4 518.5,582.8 519.0,590.0 C519.5,597.2 519.9,603.2 520.5,617.0 C521.1,630.8 521.8,654.6 522.4,672.6 C523.0,690.6 524.0,716.3 524.3,725.0" stroke="#cf2f3c" stroke-width="2.6" fill="none" stroke-linecap="round" stroke-linejoin="round" />
<path d="M79.5,459.6 C80.2,460.6 82.4,463.5 83.9,465.8 C85.5,468.1 87.2,471.4 88.8,473.2 C90.4,475.0 91.7,475.7 93.8,476.9 C95.9,478.1 98.3,479.6 101.2,480.6 C104.1,481.6 107.3,482.1 111.0,483.1 C114.7,484.1 119.3,485.6 123.4,486.8 C127.5,488.0 131.6,489.1 135.7,490.5 C139.8,491.9 144.0,493.8 148.1,495.4 C152.2,496.9 156.3,498.6 160.4,499.8 C164.5,501.0 168.7,501.8 172.8,502.8 C176.9,503.8 180.6,504.7 185.1,505.9 C189.6,507.1 189.2,508.1 200.0,510.0 C210.8,511.9 233.3,515.2 250.0,517.5 C266.7,519.8 283.3,521.9 300.0,523.8 C316.7,525.6 336.7,527.2 350.0,528.8 C363.3,530.3 373.1,531.7 380.0,532.8 C386.9,533.9 387.4,534.7 391.1,535.6 C394.8,536.5 398.5,537.2 402.2,538.3 C405.9,539.4 409.6,540.7 413.3,542.2 C417.0,543.7 420.7,545.4 424.4,547.2 C428.1,549.1 431.9,551.0 435.6,553.3 C439.3,555.6 443.0,557.8 446.7,561.1 C450.4,564.4 454.5,568.8 457.8,573.3 C461.1,577.8 464.3,583.3 466.7,587.8 C469.1,592.2 470.2,595.1 472.2,600.0 C474.2,604.9 476.9,611.1 478.9,617.0 C480.9,622.9 482.5,628.8 484.4,635.6 C486.2,642.4 488.1,649.8 490.0,657.8 C491.9,665.8 493.8,675.1 495.6,683.7 C497.5,692.3 499.9,702.8 501.1,709.6 C502.3,716.4 502.7,721.9 503.0,724.4" stroke="#2c9a5c" stroke-width="2.6" fill="none" stroke-linecap="round" stroke-linejoin="round" />
<path d="M80.9,517.5 C81.8,518.5 84.5,521.9 86.5,523.8 C88.5,525.6 90.9,527.3 92.8,528.8 C94.6,530.2 96.2,531.1 97.5,532.3 C98.8,533.5 99.4,534.9 100.5,536.0 C101.6,537.1 100.0,535.9 104.0,538.7 C108.0,541.5 117.9,548.3 124.8,552.6 C131.7,556.9 138.7,560.8 145.6,564.7 C152.5,568.6 159.4,572.2 166.4,575.8 C173.4,579.4 180.4,582.8 187.3,586.3 C194.2,589.8 201.2,593.3 208.1,596.9 C215.0,600.5 222.0,604.1 228.9,608.0 C235.8,611.9 242.8,615.9 249.7,620.1 C256.6,624.3 263.6,628.7 270.5,633.4 C277.4,638.1 284.4,643.0 291.3,648.2 C298.2,653.4 305.2,658.9 312.2,664.8 C319.1,670.6 326.1,676.8 333.0,683.3 C339.9,689.8 346.9,696.7 353.8,703.8 C360.7,710.9 371.1,722.3 374.6,726.0" stroke="#3f4096" stroke-width="2.6" fill="none" stroke-linecap="round" stroke-linejoin="round" />
<path d="M78.7,437.0 C78.7,464.2 78.7,556.2 78.7,600.0 C78.8,643.8 78.8,681.0 79.0,700.0 C79.2,719.0 79.6,709.8 80.0,714.0 C80.4,718.2 81.2,723.2 81.5,725.0" stroke="#eca840" stroke-width="3.0" fill="none" stroke-linecap="round" stroke-linejoin="round" />
<path d="M81.0,447.5 C81.8,446.8 84.2,444.9 86.0,443.5 C87.8,442.1 91.0,439.8 92.0,439.0" stroke="#eca840" stroke-width="2.6" fill="none" stroke-linecap="round" stroke-linejoin="round" />
<path d="M78.9,520V528" stroke="#23a058" stroke-width="3"/>
<path d="M742.5,725.0 C742.5,696.2 742.5,580.8 742.5,552.0" stroke="#222222" stroke-width="2.8" fill="none" stroke-linecap="round" stroke-linejoin="round" />
<path d="M742.5,552.0 C742.5,546.0 742.3,523.3 742.5,516.0 C742.7,508.7 742.9,510.1 743.5,508.0 C744.1,505.9 744.9,504.5 746.0,503.5 C747.1,502.5 748.5,502.2 750.2,501.8 C751.9,501.4 751.3,501.2 756.0,501.0 C760.7,500.8 768.1,500.6 778.6,500.4 C789.1,500.2 805.8,500.0 819.3,499.8 C832.8,499.6 846.4,499.3 859.9,499.0 C873.4,498.7 887.0,498.2 900.5,497.8 C914.0,497.4 927.6,497.1 941.1,496.7 C954.6,496.3 972.3,495.8 981.8,495.4 C991.3,495.1 989.9,495.3 998.0,494.7 C1006.1,494.0 1018.4,493.4 1030.6,491.7 C1042.8,489.9 1057.8,487.0 1071.3,484.3 C1084.8,481.7 1100.5,478.2 1111.9,475.6 C1123.4,473.0 1132.0,470.8 1140.0,469.0 C1148.0,467.2 1154.5,466.0 1160.0,464.5 C1165.5,463.0 1169.0,461.5 1172.8,460.0 C1176.6,458.5 1179.6,457.4 1183.0,455.5 C1186.4,453.6 1190.0,450.6 1193.0,448.4 C1196.0,446.2 1199.0,443.9 1201.0,442.3 C1203.0,440.7 1204.6,439.4 1205.3,438.8" stroke="#222222" stroke-width="2.6" fill="none" stroke-linecap="round" stroke-linejoin="round" />
<path d="M742.5,552.0 C742.5,546.0 742.3,523.3 742.5,516.0 C742.7,508.7 742.9,510.1 743.5,508.0 C744.1,505.9 744.9,504.5 746.0,503.5 C747.1,502.5 748.5,502.2 750.2,501.8 C751.9,501.4 751.3,501.2 756.0,501.0 C760.7,500.8 768.1,500.6 778.6,500.4 C789.1,500.2 805.8,500.0 819.3,499.8 C832.8,499.6 846.4,499.3 859.9,499.0 C873.4,498.7 887.0,498.2 900.5,497.8 C914.0,497.4 927.6,497.1 941.1,496.6 C954.6,496.1 972.3,495.2 981.8,494.7 C991.3,494.3 989.9,494.5 998.0,493.8 C1006.1,493.0 1018.4,492.2 1030.6,490.4 C1042.8,488.5 1057.8,485.3 1071.3,482.5 C1084.8,479.6 1100.5,475.9 1111.9,473.2 C1123.4,470.5 1132.4,468.2 1140.0,466.3 C1147.6,464.4 1152.7,463.4 1157.6,461.8 C1162.5,460.2 1166.1,458.2 1169.6,456.7 C1173.0,455.1 1175.4,454.2 1178.2,452.6 C1181.0,450.9 1184.0,448.6 1186.5,446.8 C1189.1,445.0 1191.4,443.1 1193.3,441.8 C1195.2,440.5 1197.1,439.3 1197.8,438.8" stroke="#cf2f3c" stroke-width="2.6" fill="none" stroke-linecap="round" stroke-linejoin="round" />
<path d="M742.5,550.0 C742.5,544.1 742.3,522.0 742.5,514.8 C742.7,507.6 742.9,508.9 743.5,506.8 C744.1,504.7 744.9,503.3 746.0,502.3 C747.1,501.3 748.5,501.0 750.2,500.6 C751.9,500.2 751.3,500.0 756.0,499.8 C760.7,499.6 768.1,499.4 778.6,499.2 C789.1,499.0 805.8,498.8 819.3,498.6 C832.8,498.4 846.4,498.1 859.9,497.8 C873.4,497.5 887.0,497.0 900.5,496.6 C914.0,496.2 927.6,495.9 941.1,495.4 C954.6,494.8 972.3,493.9 981.8,493.4 C991.3,492.9 989.9,493.2 998.0,492.4 C1006.1,491.7 1018.4,490.8 1030.6,488.9 C1042.8,487.0 1057.8,483.8 1071.3,481.0 C1084.8,478.1 1100.5,474.3 1111.9,471.6 C1123.4,468.9 1132.6,466.5 1140.0,464.6 C1147.4,462.7 1151.5,461.7 1156.1,460.1 C1160.7,458.4 1164.4,456.2 1167.5,454.6 C1170.7,453.0 1172.7,452.2 1175.2,450.7 C1177.7,449.2 1180.3,447.3 1182.5,445.7 C1184.7,444.2 1186.7,442.7 1188.5,441.5 C1190.3,440.4 1192.4,439.3 1193.2,438.8" stroke="#2c9a5c" stroke-width="2.6" fill="none" stroke-linecap="round" stroke-linejoin="round" />
<path d="M742.5,538.0 C742.5,534.3 742.3,521.0 742.5,516.0 C742.7,511.0 742.9,510.1 743.5,508.0 C744.1,505.9 744.9,504.5 746.0,503.5 C747.1,502.5 748.5,502.2 750.2,501.8 C751.9,501.4 751.3,501.2 756.0,501.0 C760.7,500.8 768.1,500.6 778.6,500.4 C789.1,500.2 805.8,500.0 819.3,499.8 C832.8,499.6 846.4,499.3 859.9,499.0 C873.4,498.7 887.0,498.2 900.5,497.8 C914.0,497.4 927.6,497.1 941.1,496.5 C954.6,495.9 972.3,494.7 981.8,494.2 C991.3,493.6 989.9,493.8 998.0,493.0 C1006.1,492.2 1018.4,491.2 1030.6,489.2 C1042.8,487.2 1057.8,483.9 1071.3,480.9 C1084.8,477.9 1100.5,474.0 1111.9,471.2 C1123.4,468.3 1132.7,465.9 1140.0,463.9 C1147.3,461.9 1151.0,461.1 1155.5,459.4 C1160.0,457.7 1163.7,455.3 1166.7,453.8 C1169.8,452.2 1171.6,451.4 1174.0,450.0 C1176.4,448.6 1178.8,446.8 1180.9,445.3 C1183.0,443.9 1184.9,442.5 1186.6,441.4 C1188.3,440.3 1190.5,439.2 1191.3,438.8" stroke="#3f4096" stroke-width="2.6" fill="none" stroke-linecap="round" stroke-linejoin="round" />
<path d="M742.5,531.0 C742.5,528.5 742.3,519.8 742.5,516.0 C742.7,512.2 742.9,510.1 743.5,508.0 C744.1,505.9 744.9,504.5 746.0,503.5 C747.1,502.5 748.5,502.2 750.2,501.8 C751.9,501.4 751.3,501.2 756.0,501.0 C760.7,500.8 768.1,500.6 778.6,500.4 C789.1,500.2 805.8,500.0 819.3,499.8 C832.8,499.6 846.4,499.3 859.9,499.0 C873.4,498.7 887.0,498.2 900.5,497.8 C914.0,497.4 927.6,497.1 941.1,496.4 C954.6,495.8 972.3,494.6 981.8,494.0 C991.3,493.5 989.9,493.7 998.0,492.9 C1006.1,492.0 1018.4,491.1 1030.6,489.0 C1042.8,487.0 1057.8,483.6 1071.3,480.6 C1084.8,477.6 1100.5,473.7 1111.9,470.8 C1123.4,468.0 1132.8,465.4 1140.0,463.5 C1147.2,461.5 1150.8,460.7 1155.1,459.0 C1159.5,457.3 1163.2,454.8 1166.2,453.2 C1169.3,451.7 1171.0,450.9 1173.2,449.5 C1175.5,448.2 1177.8,446.5 1179.9,445.1 C1181.9,443.7 1183.7,442.4 1185.4,441.3 C1187.1,440.3 1189.4,439.2 1190.2,438.8" stroke="#eca840" stroke-width="2.6" fill="none" stroke-linecap="round" stroke-linejoin="round" />
<path d="M742.5,528.0 C742.5,526.0 742.3,519.3 742.5,516.0 C742.7,512.7 742.9,510.1 743.5,508.0 C744.1,505.9 744.9,504.5 746.0,503.5 C747.1,502.5 748.5,502.2 750.2,501.8 C751.9,501.4 751.3,501.2 756.0,501.0 C760.7,500.8 768.1,500.6 778.6,500.4 C789.1,500.2 805.8,500.0 819.3,499.8 C832.8,499.6 846.4,499.3 859.9,499.0 C873.4,498.7 887.0,498.3 900.5,497.8 C914.0,497.3 927.6,497.0 941.1,496.3 C954.6,495.5 972.3,494.0 981.8,493.3 C991.3,492.6 989.9,492.9 998.0,491.9 C1006.1,490.9 1018.4,489.8 1030.6,487.6 C1042.8,485.4 1057.8,481.8 1071.3,478.6 C1084.8,475.4 1100.5,471.3 1111.9,468.2 C1123.4,465.2 1133.2,462.5 1140.0,460.5 C1146.8,458.5 1148.7,457.8 1152.5,456.0 C1156.3,454.2 1160.1,451.2 1162.7,449.6 C1165.3,448.0 1166.3,447.4 1168.0,446.3 C1169.7,445.2 1171.3,444.2 1172.8,443.3 C1174.3,442.4 1175.5,441.6 1177.0,440.8 C1178.5,440.1 1181.2,439.1 1182.0,438.8" stroke="#9c3a6e" stroke-width="2.6" fill="none" stroke-linecap="round" stroke-linejoin="round" />
<path d="M742.5,453.2 C743.1,453.9 744.7,456.3 746.0,457.9 C747.2,459.4 748.5,461.1 750.0,462.5 C751.5,464.0 753.3,465.3 755.0,466.7 C756.7,468.0 758.2,469.4 760.0,470.5 C761.8,471.6 764.0,472.4 766.0,473.3 C768.0,474.2 769.7,475.1 772.0,475.8 C774.3,476.6 777.0,477.1 780.0,477.9 C783.0,478.7 786.7,479.7 790.0,480.6 C793.3,481.5 795.3,482.1 800.0,483.3 C804.7,484.4 811.3,485.8 818.0,487.5 C824.7,489.2 833.0,491.5 840.0,493.4 C847.0,495.2 853.3,497.1 860.0,498.6 C866.7,500.2 873.2,501.4 880.0,502.8 C886.8,504.2 893.8,505.7 900.5,507.0 C907.2,508.3 913.2,509.1 920.0,510.3 C926.8,511.4 932.8,512.9 941.1,513.8 C949.4,514.8 960.5,515.3 970.0,516.0 C979.5,516.7 987.2,517.7 998.0,518.1 C1008.8,518.6 1022.8,518.5 1035.0,518.7 C1047.2,518.9 1060.2,519.1 1071.0,519.3 C1081.8,519.5 1090.2,519.7 1100.0,520.0 C1109.8,520.2 1121.9,520.6 1130.0,520.6 C1138.1,520.7 1142.9,520.1 1148.5,520.5 C1154.1,520.9 1159.4,521.9 1163.5,523.0 C1167.6,524.1 1170.2,525.0 1172.9,527.0 C1175.6,529.0 1177.7,531.7 1179.5,535.0 C1181.3,538.3 1182.5,541.3 1183.5,547.0 C1184.5,552.7 1185.2,560.6 1185.8,569.3 C1186.4,577.9 1186.8,589.0 1187.2,598.9 C1187.6,608.8 1187.8,615.0 1188.0,628.5 C1188.2,642.0 1188.3,663.9 1188.5,680.0 C1188.7,696.1 1188.9,717.5 1189.0,725.0" stroke="#222222" stroke-width="2.6" fill="none" stroke-linecap="round" stroke-linejoin="round" />
<path d="M742.5,450.4 C743.1,451.0 744.8,452.7 746.0,453.9 C747.2,455.1 748.5,456.4 750.0,457.6 C751.5,458.9 753.3,460.1 755.0,461.4 C756.7,462.7 758.2,464.1 760.0,465.4 C761.8,466.7 764.0,468.1 766.0,469.2 C768.0,470.4 769.7,471.4 772.0,472.3 C774.3,473.3 777.0,474.0 780.0,474.9 C783.0,475.8 786.7,476.9 790.0,477.8 C793.3,478.7 795.3,479.3 800.0,480.4 C804.7,481.6 811.3,483.2 818.0,484.9 C824.7,486.6 833.0,488.6 840.0,490.4 C847.0,492.1 853.3,493.8 860.0,495.4 C866.7,497.0 873.2,498.3 880.0,499.8 C886.8,501.3 893.8,503.1 900.5,504.4 C907.2,505.7 913.2,506.7 920.0,507.9 C926.8,509.2 932.8,510.7 941.1,511.8 C949.4,512.8 960.5,513.4 970.0,514.3 C979.5,515.1 987.2,516.1 998.0,516.7 C1008.8,517.3 1022.8,517.3 1035.0,517.6 C1047.2,517.9 1060.2,518.2 1071.0,518.5 C1081.8,518.8 1090.2,519.0 1100.0,519.2 C1109.8,519.4 1121.5,519.7 1130.0,519.9 C1138.5,520.1 1145.0,520.0 1151.0,520.5 C1157.0,521.0 1161.9,521.9 1166.0,523.0 C1170.1,524.1 1172.7,525.0 1175.4,527.0 C1178.1,529.0 1180.2,531.7 1182.0,535.0 C1183.8,538.3 1185.0,541.3 1186.0,547.0 C1187.0,552.7 1187.7,560.6 1188.3,569.3 C1188.9,577.9 1189.3,589.0 1189.7,598.9 C1190.1,608.8 1190.3,615.0 1190.5,628.5 C1190.7,642.0 1190.8,663.9 1191.0,680.0 C1191.2,696.1 1191.4,717.5 1191.5,725.0" stroke="#cf2f3c" stroke-width="2.6" fill="none" stroke-linecap="round" stroke-linejoin="round" />
<path d="M742.5,458.3 C743.1,459.1 744.8,461.4 746.0,462.8 C747.2,464.2 748.5,465.4 750.0,466.8 C751.5,468.2 753.3,469.8 755.0,471.1 C756.7,472.5 758.2,473.7 760.0,474.7 C761.8,475.7 764.0,476.4 766.0,477.2 C768.0,478.0 769.7,478.8 772.0,479.5 C774.3,480.2 777.0,480.7 780.0,481.3 C783.0,482.0 786.7,482.8 790.0,483.6 C793.3,484.3 795.3,484.8 800.0,485.9 C804.7,487.0 811.3,488.7 818.0,490.4 C824.7,492.1 833.0,494.5 840.0,496.4 C847.0,498.3 853.3,500.2 860.0,501.8 C866.7,503.4 873.2,504.4 880.0,505.8 C886.8,507.1 893.8,508.6 900.5,509.8 C907.2,511.0 913.2,511.7 920.0,512.7 C926.8,513.7 932.8,514.9 941.1,515.8 C949.4,516.7 960.5,517.2 970.0,517.8 C979.5,518.5 987.2,519.4 998.0,519.8 C1008.8,520.2 1022.8,520.0 1035.0,520.2 C1047.2,520.3 1060.2,520.4 1071.0,520.5 C1081.8,520.6 1090.2,520.7 1100.0,520.7 C1109.8,520.8 1121.8,521.0 1130.0,521.0 C1138.2,521.0 1143.5,520.6 1149.2,521.0 C1154.9,521.4 1160.1,522.4 1164.2,523.5 C1168.3,524.6 1170.9,525.5 1173.6,527.5 C1176.3,529.5 1178.4,532.2 1180.2,535.5 C1182.0,538.8 1183.2,541.8 1184.2,547.5 C1185.2,553.2 1185.9,561.1 1186.5,569.8 C1187.1,578.4 1187.5,589.5 1187.9,599.4 C1188.3,609.3 1188.5,615.5 1188.7,629.0 C1188.9,642.5 1189.0,664.4 1189.2,680.5 C1189.4,696.6 1189.6,718.0 1189.7,725.5" stroke="#2c9a5c" stroke-width="2.6" fill="none" stroke-linecap="round" stroke-linejoin="round" />
<path d="M742.5,454.6 C743.1,455.4 744.8,457.8 746.0,459.3 C747.2,460.8 748.5,462.3 750.0,463.8 C751.5,465.2 753.3,466.6 755.0,467.9 C756.7,469.3 758.2,470.6 760.0,471.7 C761.8,472.8 764.0,473.5 766.0,474.4 C768.0,475.2 769.7,476.1 772.0,476.9 C774.3,477.6 777.0,478.1 780.0,478.9 C783.0,479.6 786.7,480.6 790.0,481.4 C793.3,482.3 795.3,482.9 800.0,484.0 C804.7,485.2 811.3,486.7 818.0,488.4 C824.7,490.0 833.0,492.4 840.0,494.2 C847.0,496.1 853.3,498.0 860.0,499.6 C866.7,501.1 873.2,502.2 880.0,503.6 C886.8,505.0 893.8,506.6 900.5,507.8 C907.2,509.0 913.2,509.9 920.0,511.0 C926.8,512.1 932.8,513.5 941.1,514.4 C949.4,515.3 960.5,515.8 970.0,516.5 C979.5,517.2 987.2,518.2 998.0,518.6 C1008.8,519.0 1022.8,519.0 1035.0,519.1 C1047.2,519.3 1060.2,519.5 1071.0,519.6 C1081.8,519.8 1090.2,520.0 1100.0,520.2 C1109.8,520.4 1122.0,520.7 1130.0,520.8 C1138.0,520.8 1142.5,520.1 1148.0,520.5 C1153.5,520.9 1158.9,521.9 1163.0,523.0 C1167.1,524.1 1169.7,525.0 1172.4,527.0 C1175.1,529.0 1177.2,531.7 1179.0,535.0 C1180.8,538.3 1182.0,541.3 1183.0,547.0 C1184.0,552.7 1184.7,560.6 1185.3,569.3 C1185.9,577.9 1186.3,589.0 1186.7,598.9 C1187.1,608.8 1187.3,615.0 1187.5,628.5 C1187.7,642.0 1187.8,663.9 1188.0,680.0 C1188.2,696.1 1188.4,717.5 1188.5,725.0" stroke="#3f4096" stroke-width="2.6" fill="none" stroke-linecap="round" stroke-linejoin="round" />
<path d="M742.5,449.8 C743.1,450.2 744.8,451.3 746.0,452.0 C747.2,452.8 748.5,453.5 750.0,454.5 C751.5,455.5 753.3,456.8 755.0,458.1 C756.7,459.3 758.2,460.6 760.0,462.0 C761.8,463.5 764.0,465.4 766.0,466.8 C768.0,468.2 769.7,469.3 772.0,470.4 C774.3,471.5 777.0,472.4 780.0,473.4 C783.0,474.4 786.7,475.4 790.0,476.3 C793.3,477.2 795.3,477.6 800.0,478.8 C804.7,480.0 811.3,481.8 818.0,483.5 C824.7,485.2 833.0,487.1 840.0,488.7 C847.0,490.4 853.3,491.9 860.0,493.5 C866.7,495.1 873.2,496.6 880.0,498.2 C886.8,499.8 893.8,501.6 900.5,503.0 C907.2,504.4 913.2,505.4 920.0,506.6 C926.8,507.9 932.8,509.4 941.1,510.5 C949.4,511.6 960.5,512.4 970.0,513.3 C979.5,514.2 987.2,515.4 998.0,516.0 C1008.8,516.6 1022.8,516.7 1035.0,517.1 C1047.2,517.5 1060.2,517.9 1071.0,518.2 C1081.8,518.5 1090.2,518.6 1100.0,518.7 C1109.8,518.9 1121.3,519.1 1130.0,519.3 C1138.7,519.5 1145.8,519.5 1152.0,520.0 C1158.2,520.5 1162.9,521.4 1167.0,522.5 C1171.1,523.6 1173.7,524.5 1176.4,526.5 C1179.1,528.5 1181.2,531.2 1183.0,534.5 C1184.8,537.8 1186.0,540.8 1187.0,546.5 C1188.0,552.2 1188.7,560.1 1189.3,568.8 C1189.9,577.4 1190.3,588.5 1190.7,598.4 C1191.1,608.3 1191.3,614.5 1191.5,628.0 C1191.7,641.5 1191.8,663.4 1192.0,679.5 C1192.2,695.6 1192.4,717.0 1192.5,724.5" stroke="#eca840" stroke-width="2.6" fill="none" stroke-linecap="round" stroke-linejoin="round" />
<path d="M742.5,451.0 C743.1,451.8 744.8,454.1 746.0,455.8 C747.2,457.4 748.5,459.2 750.0,460.7 C751.5,462.2 753.3,463.4 755.0,464.7 C756.7,466.1 758.2,467.6 760.0,468.7 C761.8,469.9 764.0,470.7 766.0,471.6 C768.0,472.5 769.7,473.5 772.0,474.3 C774.3,475.1 777.0,475.5 780.0,476.4 C783.0,477.2 786.7,478.3 790.0,479.3 C793.3,480.3 795.3,481.0 800.0,482.1 C804.7,483.3 811.3,484.6 818.0,486.3 C824.7,488.0 833.0,490.2 840.0,492.1 C847.0,493.9 853.3,495.7 860.0,497.3 C866.7,498.9 873.2,500.1 880.0,501.5 C886.8,502.9 893.8,504.5 900.5,505.8 C907.2,507.1 913.2,508.1 920.0,509.3 C926.8,510.5 932.8,512.0 941.1,513.0 C949.4,514.0 960.5,514.5 970.0,515.2 C979.5,516.0 987.2,516.9 998.0,517.4 C1008.8,517.9 1022.8,517.9 1035.0,518.1 C1047.2,518.3 1060.2,518.5 1071.0,518.8 C1081.8,519.1 1090.2,519.4 1100.0,519.6 C1109.8,519.9 1123.3,520.0 1130.0,520.5 C1136.7,521.0 1137.2,521.8 1140.0,522.5 C1142.8,523.2 1144.7,523.6 1147.0,524.5 C1149.3,525.4 1151.6,526.0 1153.7,527.8 C1155.8,529.6 1158.0,532.0 1159.6,535.2 C1161.2,538.4 1162.2,542.5 1163.3,547.0 C1164.4,551.5 1165.4,556.9 1166.3,561.9 C1167.2,566.9 1167.8,570.5 1168.5,576.7 C1169.2,582.9 1169.7,590.3 1170.3,598.9 C1170.9,607.5 1171.6,615.0 1172.2,628.5 C1172.8,642.0 1173.4,663.9 1174.0,680.0 C1174.6,696.1 1175.6,717.5 1175.9,725.0" stroke="#9c3a6e" stroke-width="2.6" fill="none" stroke-linecap="round" stroke-linejoin="round" />
<path d="M906.6,512V518" stroke="#23a058" stroke-width="2.2"/>
<path d="M137.5,174.2H176.5" stroke="#222222" stroke-width="3" />
<text x="190.0" y="179.7" class="lg">1st</text>
<path d="M137.5,194.6H176.5" stroke="#cf2f3c" stroke-width="3" />
<text x="190.0" y="200.1" class="lg">2nd</text>
<path d="M137.5,215.1H176.5" stroke="#2c9a5c" stroke-width="3" />
<text x="190.0" y="220.6" class="lg">10th</text>
<path d="M137.5,235.5H176.5" stroke="#3f4096" stroke-width="3" />
<text x="190.0" y="241.0" class="lg">30th</text>
<path d="M137.5,256.0H176.5" stroke="#eca840" stroke-width="3" />
<text x="190.0" y="261.5" class="lg">50th</text>
<path d="M137.5,276.4H176.5" stroke="#9c3a6e" stroke-width="3" />
<text x="190.0" y="281.9" class="lg">100th</text>
<path d="M798.3,173.6H837.3" stroke="#222222" stroke-width="3" />
<text x="850.5" y="179.1" class="lg">1st</text>
<path d="M798.3,194.0H837.3" stroke="#cf2f3c" stroke-width="3" />
<text x="850.5" y="199.5" class="lg">2nd</text>
<path d="M798.3,214.5H837.3" stroke="#2c9a5c" stroke-width="3" />
<text x="850.5" y="220.0" class="lg">10th</text>
<path d="M798.3,234.9H837.3" stroke="#3f4096" stroke-width="3" />
<text x="850.5" y="240.4" class="lg">30th</text>
<path d="M798.3,255.4H837.3" stroke="#eca840" stroke-width="3" />
<text x="850.5" y="260.9" class="lg">50th</text>
<path d="M798.3,275.9H837.3" stroke="#9c3a6e" stroke-width="3" />
<text x="850.5" y="281.4" class="lg">100th</text>
<path d="M100.5,609.9H139.5" stroke="#222222" stroke-width="3" />
<text x="150.0" y="615.4" class="lg">1st</text>
<path d="M100.5,630.4H139.5" stroke="#cf2f3c" stroke-width="3" />
<text x="150.0" y="635.9" class="lg">2nd</text>
<path d="M100.5,650.8H139.5" stroke="#2c9a5c" stroke-width="3" />
<text x="150.0" y="656.3" class="lg">5th</text>
<path d="M100.5,671.2H139.5" stroke="#3f4096" stroke-width="3" />
<text x="150.0" y="676.8" class="lg">10th</text>
<path d="M100.5,691.7H139.5" stroke="#eca840" stroke-width="3" />
<text x="150.0" y="697.2" class="lg">20th</text>
<path d="M778.2,599.4H817.2" stroke="#222222" stroke-width="3" />
<text x="830.5" y="604.9" class="lg">1st</text>
<path d="M778.2,619.9H817.2" stroke="#cf2f3c" stroke-width="3" />
<text x="830.5" y="625.4" class="lg">2nd</text>
<path d="M778.2,640.3H817.2" stroke="#2c9a5c" stroke-width="3" />
<text x="830.5" y="645.8" class="lg">10th</text>
<path d="M778.2,660.8H817.2" stroke="#3f4096" stroke-width="3" />
<text x="830.5" y="666.2" class="lg">30th</text>
<path d="M778.2,681.2H817.2" stroke="#eca840" stroke-width="3" />
<text x="830.5" y="686.7" class="lg">50th</text>
<path d="M778.2,701.6H817.2" stroke="#9c3a6e" stroke-width="3" />
<text x="830.5" y="707.1" class="lg">100th</text>
</svg>
</body></html>
